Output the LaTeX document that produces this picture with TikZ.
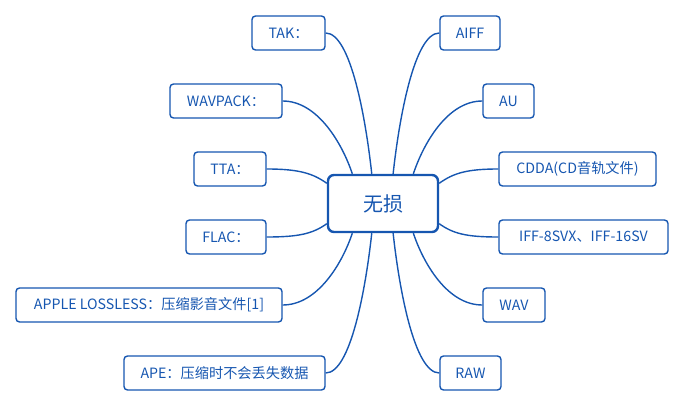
\documentclass[tikz,border=0pt]{standalone}
\usepackage{fontspec}
\setmainfont{Noto Sans CJK SC}
\usetikzlibrary{calc}
\definecolor{mblue}{RGB}{22,86,176}
\begin{document}
\begin{tikzpicture}[x=1pt,y=1pt,
  leaf/.style={draw=mblue, line width=1.4pt, rounded corners=3.5pt, text=mblue,
    font=\fontsize{14.2}{16}\selectfont, inner sep=0pt, minimum height=34pt},
  root/.style={draw=mblue, line width=2.4pt, rounded corners=6pt, text=mblue,
    font=\fontsize{20}{22}\selectfont, inner sep=0pt, minimum width=110pt, minimum height=57pt},
  link/.style={draw=mblue, line width=1.4pt}]
\useasboundingbox (0,0) rectangle (685,408);
\node[root] (c) at (383,204.5) {无损};
% left
\node[leaf, minimum width=73pt] (tak) at (288.5,375) {TAK：};
\node[leaf, minimum width=112pt] (wav) at (226,307) {WAVPACK：};
\node[leaf, minimum width=72pt] (tta) at (230,239) {TTA：};
\node[leaf, minimum width=80pt] (flac) at (226,171) {FLAC：};
\node[leaf, minimum width=266pt] (apple) at (149,103) {APPLE LOSSLESS：压缩影音文件[1]};
\node[leaf, minimum width=201pt] (ape) at (224.5,35) {APE：压缩时不会丢失数据};
% right
\node[leaf, minimum width=60pt] (aiff) at (470,375) {AIFF};
\node[leaf, minimum width=51pt] (au) at (508.5,307) {AU};
\node[leaf, minimum width=157pt] (cdda) at (577.5,239) {CDDA(CD音轨文件)};
\node[leaf, minimum width=169pt] (iff) at (583.5,171) {IFF-8SVX、IFF-16SV};
\node[leaf, minimum width=62pt] (wave) at (514,103) {WAV};
\node[leaf, minimum width=61pt] (raw) at (470.5,35) {RAW};
% attach points
\coordinate (t1) at ($(c.north west)!0.227!(c.north east)$);
\coordinate (t2) at ($(c.north west)!0.40!(c.north east)$);
\coordinate (t3) at ($(c.north west)!0.59!(c.north east)$);
\coordinate (t4) at ($(c.north west)!0.77!(c.north east)$);
\coordinate (b1) at ($(c.south west)!0.227!(c.south east)$);
\coordinate (b2) at ($(c.south west)!0.40!(c.south east)$);
\coordinate (b3) at ($(c.south west)!0.59!(c.south east)$);
\coordinate (b4) at ($(c.south west)!0.77!(c.south east)$);
\coordinate (l1) at ($(c.north west)!0.16!(c.south west)$);
\coordinate (l2) at ($(c.north west)!0.84!(c.south west)$);
\coordinate (r1) at ($(c.north east)!0.16!(c.south east)$);
\coordinate (r2) at ($(c.north east)!0.84!(c.south east)$);
% links
\path[link] (tak.east) .. controls +(25,0) and +(-6,55) .. (t2);
\path[link] (wav.east) .. controls +(35,0) and +(-10,30) .. (t1);
\path[link] (tta.east) .. controls +(32,0) and +(-14,10) .. (l1);
\path[link] (flac.east) .. controls +(32,0) and +(-14,-10) .. (l2);
\path[link] (apple.east) .. controls +(35,0) and +(-10,-30) .. (b1);
\path[link] (ape.east) .. controls +(25,0) and +(-6,-55) .. (b2);
\path[link] (aiff.west) .. controls +(-25,0) and +(6,55) .. (t3);
\path[link] (au.west) .. controls +(-35,0) and +(10,30) .. (t4);
\path[link] (cdda.west) .. controls +(-32,0) and +(14,10) .. (r1);
\path[link] (iff.west) .. controls +(-32,0) and +(14,-10) .. (r2);
\path[link] (wave.west) .. controls +(-35,0) and +(10,-30) .. (b4);
\path[link] (raw.west) .. controls +(-25,0) and +(6,-55) .. (b3);
\end{tikzpicture}
\end{document}
